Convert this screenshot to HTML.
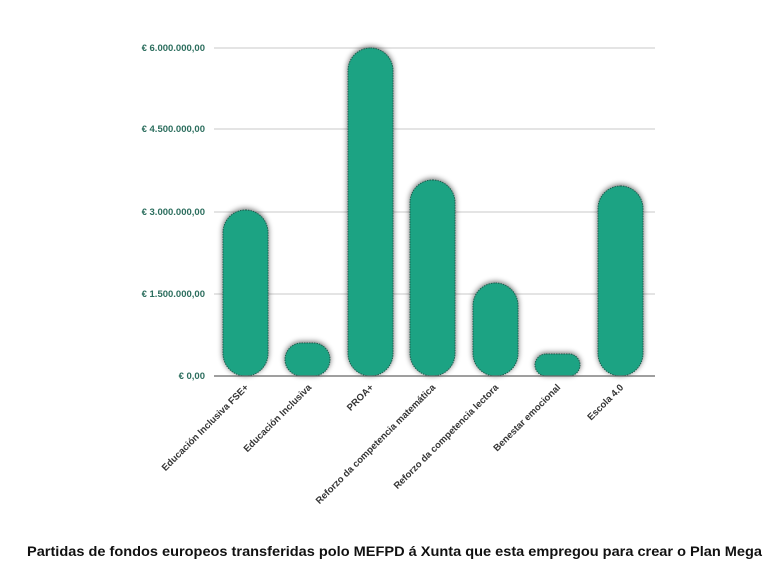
<!DOCTYPE html>
<html><head><meta charset="utf-8"><style>
html,body{margin:0;padding:0;background:#fff;width:780px;height:583px;overflow:hidden}
</style></head><body>
<svg width="780" height="583" xmlns="http://www.w3.org/2000/svg" font-family="Liberation Sans, sans-serif">
<defs><filter id="sh" x="-30%" y="-10%" width="160%" height="130%"><feGaussianBlur in="SourceAlpha" stdDeviation="3"/><feOffset dx="0" dy="-1"/><feComponentTransfer><feFuncA type="linear" slope="0.6"/></feComponentTransfer><feMerge><feMergeNode/><feMergeNode in="SourceGraphic"/></feMerge></filter></defs>
<g stroke="#c8c8c8" stroke-width="1">
<line x1="214" y1="48" x2="655" y2="48"/><line x1="214" y1="129" x2="655" y2="129"/><line x1="214" y1="212" x2="655" y2="212"/><line x1="214" y1="294" x2="655" y2="294"/>
</g>
<g font-size="9.5" font-weight="bold" fill="#2c6e5e" text-anchor="end">
<text x="205" y="51">€ 6.000.000,00</text><text x="205" y="132">€ 4.500.000,00</text><text x="205" y="215">€ 3.000.000,00</text><text x="205" y="297">€ 1.500.000,00</text><text x="205" y="379">€ 0,00</text>
</g>
<g fill="#1fa383" stroke="#1d5c4d" stroke-dasharray="1.5,1" stroke-width="1" filter="url(#sh)">
<rect x="223" y="210" width="45" height="166" rx="22.5"/>
<rect x="285" y="343" width="45" height="33" rx="16.5"/>
<rect x="348" y="48" width="45" height="328" rx="22.5"/>
<rect x="410" y="180" width="45" height="196" rx="22.5"/>
<rect x="473" y="283" width="45" height="93" rx="22.5"/>
<rect x="535" y="354" width="45" height="22" rx="11"/>
<rect x="598" y="186" width="45" height="190" rx="22.5"/>
</g>
<line x1="214" y1="376" x2="655" y2="376" stroke="#666" stroke-width="1.2"/>
<g font-size="9.5" font-weight="bold" fill="#333" text-anchor="end">
<text transform="translate(249,388) rotate(-45)">Educación Inclusiva FSE+</text>
<text transform="translate(312,388) rotate(-45)">Educación Inclusiva</text>
<text transform="translate(374,388) rotate(-45)">PROA+</text>
<text transform="translate(436,388) rotate(-45)">Reforzo da competencia matemática</text>
<text transform="translate(499,388) rotate(-45)">Reforzo da competencia lectora</text>
<text transform="translate(561,388) rotate(-45)">Benestar emocional</text>
<text transform="translate(624,388) rotate(-45)">Escola 4.0</text>
</g>
<text x="27" y="556" font-size="14" font-weight="bold" fill="#111" textLength="735" lengthAdjust="spacingAndGlyphs">Partidas de fondos europeos transferidas polo MEFPD á Xunta que esta empregou para crear o Plan Mega</text>
</svg>
</body></html>
